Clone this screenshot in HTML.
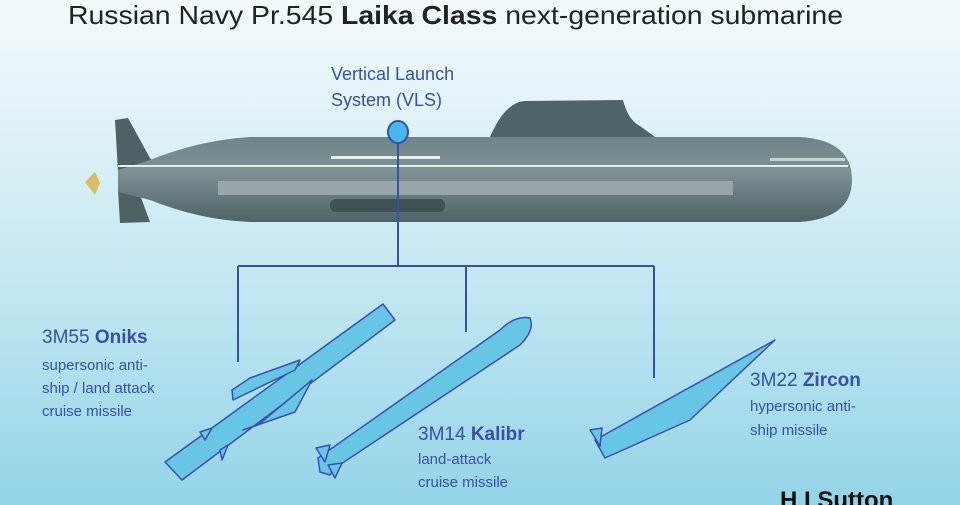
<!DOCTYPE html>
<html><head><meta charset="utf-8"><style>
html,body{margin:0;padding:0;width:960px;height:505px;overflow:hidden}
svg{display:block}
text{font-family:"Liberation Sans",sans-serif}
</style></head><body>
<svg width="960" height="505" viewBox="0 0 960 505" xmlns="http://www.w3.org/2000/svg">
<defs>
<linearGradient id="bg" x1="0" y1="0" x2="0" y2="1">
<stop offset="0" stop-color="#f2fafc"/><stop offset="0.3" stop-color="#dcf0f6"/><stop offset="0.6" stop-color="#bfe6f1"/><stop offset="1" stop-color="#93d4e7"/>
</linearGradient>
<linearGradient id="hull" x1="0" y1="0" x2="0" y2="1">
<stop offset="0" stop-color="#6f8588"/><stop offset="0.4" stop-color="#7e9296"/><stop offset="1" stop-color="#4f6266"/>
</linearGradient>
</defs>
<rect width="960" height="505" fill="url(#bg)"/>
<text x="68" y="24" font-size="26" fill="#222" textLength="775" lengthAdjust="spacingAndGlyphs">Russian Navy Pr.545 <tspan font-weight="bold">Laika Class</tspan> next-generation submarine</text>
<!-- submarine -->
<path d="M490 137 Q505 102 525 101 L623 100 Q628 120 640 126 L655 137 Z" fill="#4f6466"/>
<path d="M115 120 L128 118 L150 158 L160 170 L118 172 Z" fill="#4e6165"/>
<path d="M118 190 L140 195 L150 222 L120 223 Z" fill="#4e6165"/>
<path d="M150 160 Q200 140 250 137 L800 137 Q852 140 852 180 Q852 218 800 222 L250 222 Q200 220 150 200 L118 192 L118 170 Z" fill="url(#hull)"/>
<rect x="218" y="181" width="515" height="14" fill="#9aa5a8"/>
<rect x="330" y="199" width="115" height="13" rx="6" fill="#3f5155"/>
<line x1="118" y1="166" x2="848" y2="166" stroke="#e8eeee" stroke-width="2"/>
<rect x="331" y="156" width="109" height="3" fill="#e8eeee"/>
<rect x="770" y="158" width="75" height="3" fill="#c8d0d0"/>
<path d="M95 172 L85 182 L95 195 L100 183 Z" fill="#d8c060"/>
<!-- VLS -->
<text x="331" y="80" font-size="18" fill="#3a4fa8">Vertical Launch</text>
<text x="331" y="106" font-size="18" fill="#3a4fa8">System (VLS)</text>
<g stroke="#3b4fae" stroke-width="2" fill="none">
<line x1="398" y1="142" x2="398" y2="266"/>
<line x1="238" y1="266" x2="654" y2="266"/>
<line x1="238" y1="266" x2="238" y2="362"/>
<line x1="466" y1="266" x2="466" y2="332"/>
<line x1="654" y1="266" x2="654" y2="378"/>
</g>
<ellipse cx="398" cy="132" rx="10" ry="11" fill="#48b8e8" stroke="#3b4fae" stroke-width="2"/>
<!-- missiles -->
<g fill="#66c6e4" stroke="#3b4fae" stroke-width="1.5" stroke-linejoin="round">
<path d="M165 462 L383 304 L395 320 L182 480 Z"/>
<path d="M233 400 L295 370 L300 360 L250 378 L232 390 Z"/>
<path d="M243 430 L295 412 L312 380 L258 425 Z"/>
<path d="M200 432 L212 428 L205 440 Z"/>
<path d="M220 450 L228 445 L222 460 Z"/>
<path d="M318 458 L500 330 Q515 315 530 318 Q535 330 520 345 L335 468 L330 475 L320 472 Z"/>
<path d="M316 448 L330 445 L325 462 Z"/>
<path d="M328 465 L342 463 L335 478 Z"/>
<path d="M595 440 L775 340 L690 420 L605 458 Z"/>
<path d="M590 430 L602 428 L600 446 Z"/>
</g>
<!-- labels -->
<g fill="#3a4fa8">
<text x="42" y="343" font-size="19">3M55 <tspan font-weight="bold">Oniks</tspan></text>
<text x="42" y="370" font-size="15">supersonic anti-</text>
<text x="42" y="393" font-size="15">ship / land attack</text>
<text x="42" y="416" font-size="15">cruise missile</text>
<text x="418" y="440" font-size="19">3M14 <tspan font-weight="bold">Kalibr</tspan></text>
<text x="418" y="464" font-size="15">land-attack</text>
<text x="418" y="487" font-size="15">cruise missile</text>
<text x="750" y="386" font-size="19">3M22 <tspan font-weight="bold">Zircon</tspan></text>
<text x="750" y="411" font-size="15">hypersonic anti-</text>
<text x="750" y="435" font-size="15">ship missile</text>
</g>
<text x="780" y="508" font-size="24" font-weight="bold" fill="#111">H I Sutton</text>
</svg>
</body></html>
